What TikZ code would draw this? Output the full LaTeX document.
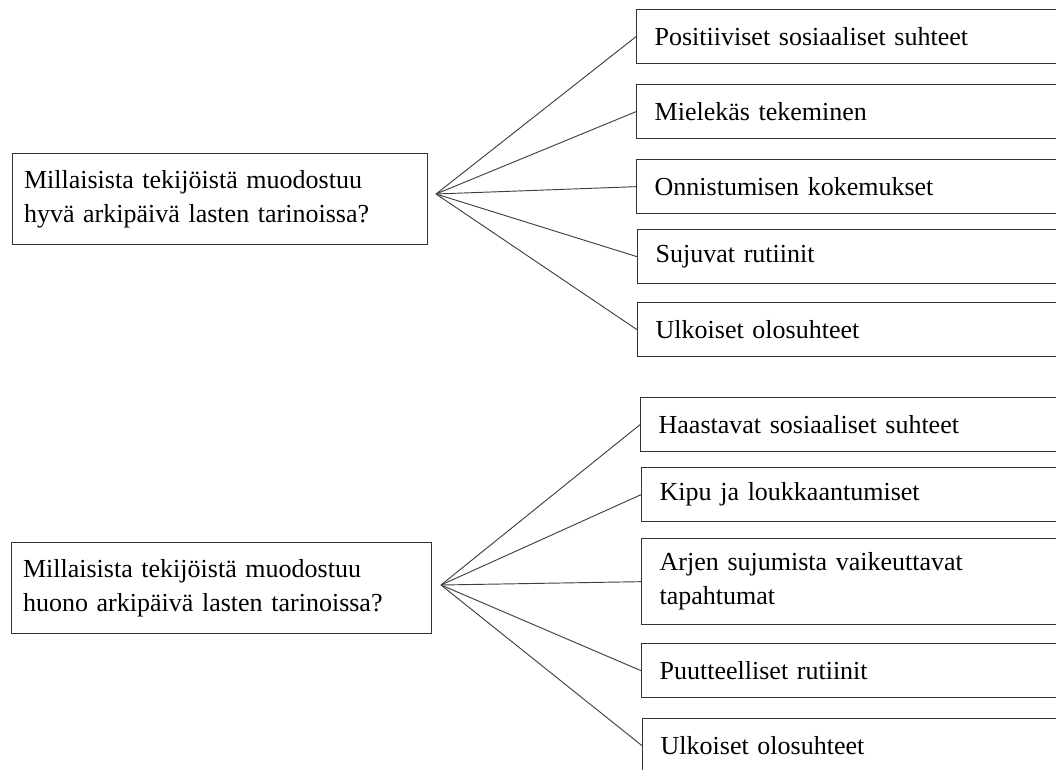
\documentclass[tikz,border=0pt]{standalone}
\usepackage{fontspec}
\setmainfont{Liberation Serif}
\begin{document}
\begin{tikzpicture}[x=0.75pt,y=-0.75pt,
  every node/.style={font=\fontsize{19.5pt}{25.5pt}\selectfont},
  qbox/.style={draw=black!80, line width=1pt, rectangle, anchor=north west,
    inner ysep=0pt, align=left},
  lbox/.style={qbox, inner xsep=8.5pt, minimum width=#1, text width=#1-17pt, minimum height=68pt},
  rbox/.style={qbox, inner xsep=13.5pt, minimum width=330pt, text width=303pt, minimum height=#1},
  conn/.style={draw=black!75, line width=0.7pt}]
\clip (0,0) rectangle (1056,770);
\fill[white] (0,0) rectangle (1056,770);
% top group
\node[lbox=311.25pt] (L1) at (12,153) {Millaisista tekijöistä muodostuu\\hyvä arkipäivä lasten tarinoissa?};
\node[rbox=40.5pt] (a1) at (636,9) {Positiiviset sosiaaliset suhteet};
\node[rbox=40.5pt] (a2) at (636,84) {Mielekäs tekeminen};
\node[rbox=40.5pt] (a3) at (636,159) {Onnistumisen kokemukset};
\node[rbox=40.5pt] (a4) at (637,229) {Sujuvat rutiinit};
\node[rbox=40.5pt] (a5) at (637,302) {Ulkoiset olosuhteet};
\coordinate (f1) at (436,194);
\foreach \n in {a1,a2,a3,a4,a5} \draw[conn] (f1) -- (\n.west);
% bottom group
\node[lbox=315pt] (L2) at (11,542) {Millaisista tekijöistä muodostuu\\huono arkipäivä lasten tarinoissa?};
\node[rbox=40.5pt] (b1) at (640,397) {Haastavat sosiaaliset suhteet};
\node[rbox=40.5pt] (b2) at (641,467) {Kipu ja loukkaantumiset};
\node[rbox=64.5pt] (b3) at (641,538) {Arjen sujumista vaikeuttavat\\tapahtumat};
\node[rbox=40.5pt] (b4) at (641,643) {Puutteelliset rutiinit};
\node[rbox=40.5pt] (b5) at (642,718) {Ulkoiset olosuhteet};
\coordinate (f2) at (441,585);
\foreach \n in {b1,b2,b3,b4,b5} \draw[conn] (f2) -- (\n.west);
\end{tikzpicture}
\end{document}
